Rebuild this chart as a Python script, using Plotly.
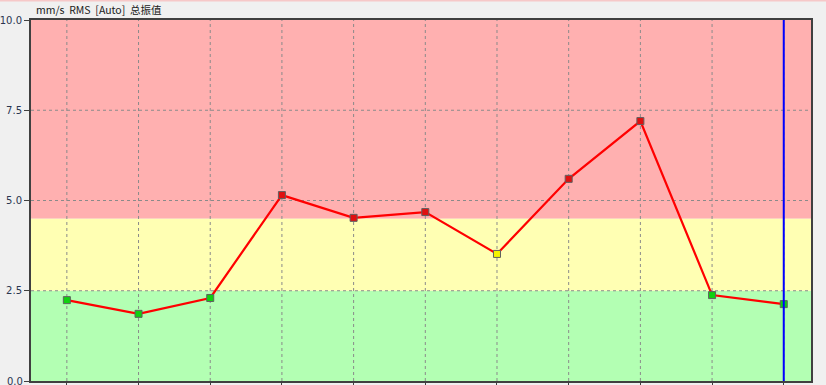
import plotly.graph_objects as go

# Data
x_idx = list(range(11))
values = [2.24, 1.86, 2.30, 5.15, 4.52, 4.68, 3.52, 5.60, 7.20, 2.38, 2.13]
y_ticks = [0, 2.5, 5, 7.5, 10]
y_tick_labels = ["0.0", "2.5", "5.0", "7.5", "10.0"]
alarm_low = 2.5
alarm_high = 4.5
y_max = 10
cursor_x = 10
title_words = ["mm/s", "RMS", "[Auto]", "总振值"]

def marker_color(v):
    if v < alarm_low:
        return "#10d010"
    if v < alarm_high:
        return "#f4f400"
    return "#e01010"

colors = [marker_color(v) for v in values]

fig = go.Figure()
fig.add_trace(go.Scatter(
    x=x_idx, y=values, mode="lines+markers",
    line=dict(color="#ff0000", width=2.2),
    marker=dict(symbol="square", size=7, color=colors,
                line=dict(color="#606060", width=1)),
    showlegend=False, hoverinfo="skip",
))

# Zones
zones = [(0, alarm_low, "#b3ffb3"), (alarm_low, alarm_high, "#ffffb3"), (alarm_high, y_max, "#ffb0b0")]
for y0, y1, c in zones:
    fig.add_shape(type="rect", xref="paper", yref="y", x0=0, x1=1, y0=y0, y1=y1,
                  fillcolor=c, line_width=0, layer="below")

grid_style = dict(color="#8a8a8a", width=1, dash="3px,3px")
for xv in x_idx:
    fig.add_shape(type="line", xref="x", yref="y", x0=xv, x1=xv, y0=0, y1=y_max,
                  line=grid_style, layer="below")
for yv in y_ticks[1:-1]:
    fig.add_shape(type="line", xref="paper", yref="y", x0=0, x1=1, y0=yv, y1=yv,
                  line=grid_style, layer="below")

# Cursor line
fig.add_shape(type="line", xref="x", yref="y", x0=cursor_x, x1=cursor_x, y0=0, y1=y_max,
              line=dict(color="#0000ff", width=2), layer="above")

# Pink strip at top of page
fig.add_shape(type="rect", xref="paper", yref="paper", x0=-0.1, x1=1.1,
              y0=1 + 18.5 / 361, y1=1.2, fillcolor="#f6c8c8", line_width=0, layer="above")

fig.add_annotation(text="&nbsp;&nbsp;".join(title_words), xref="paper", yref="paper", x=0.004, y=1.0,
                   xanchor="left", yanchor="bottom", showarrow=False, yshift=1,
                   font=dict(family="Noto Sans CJK SC, DejaVu Sans", size=10.5, color="#202020"))

# bottom tick label (partly clipped by the page edge, as in the original)
fig.add_annotation(text=y_tick_labels[0], xref="paper", yref="y", x=0, y=y_ticks[0],
                   xanchor="right", yanchor="middle", xshift=-6, showarrow=False,
                   font=dict(family="DejaVu Sans", size=10, color="#2a3550"))

fig.update_layout(
    width=826, height=385,
    margin=dict(l=31, r=15, t=20, b=4, autoexpand=False),
    paper_bgcolor="#f0f0f0", plot_bgcolor="#f0f0f0",
    font=dict(family="DejaVu Sans", size=10, color="#2a3550"),
)
fig.update_xaxes(
    range=[-0.5, 10.38], tickvals=x_idx, showticklabels=False,
    showgrid=False, automargin=False,
    ticks="outside", ticklen=4, tickcolor="#404040",
    showline=True, linecolor="#404040", linewidth=2, mirror=True, zeroline=False,
)
fig.update_yaxes(
    range=[0, y_max], tickvals=y_ticks, ticktext=y_tick_labels,
    showgrid=False, automargin=False,
    ticks="outside", ticklen=5, tickcolor="#404040",
    showline=True, linecolor="#404040", linewidth=2, mirror=True, zeroline=False,
    tickfont=dict(family="DejaVu Sans", size=10, color="#2a3550"),
)

fig.write_html("out.html")
